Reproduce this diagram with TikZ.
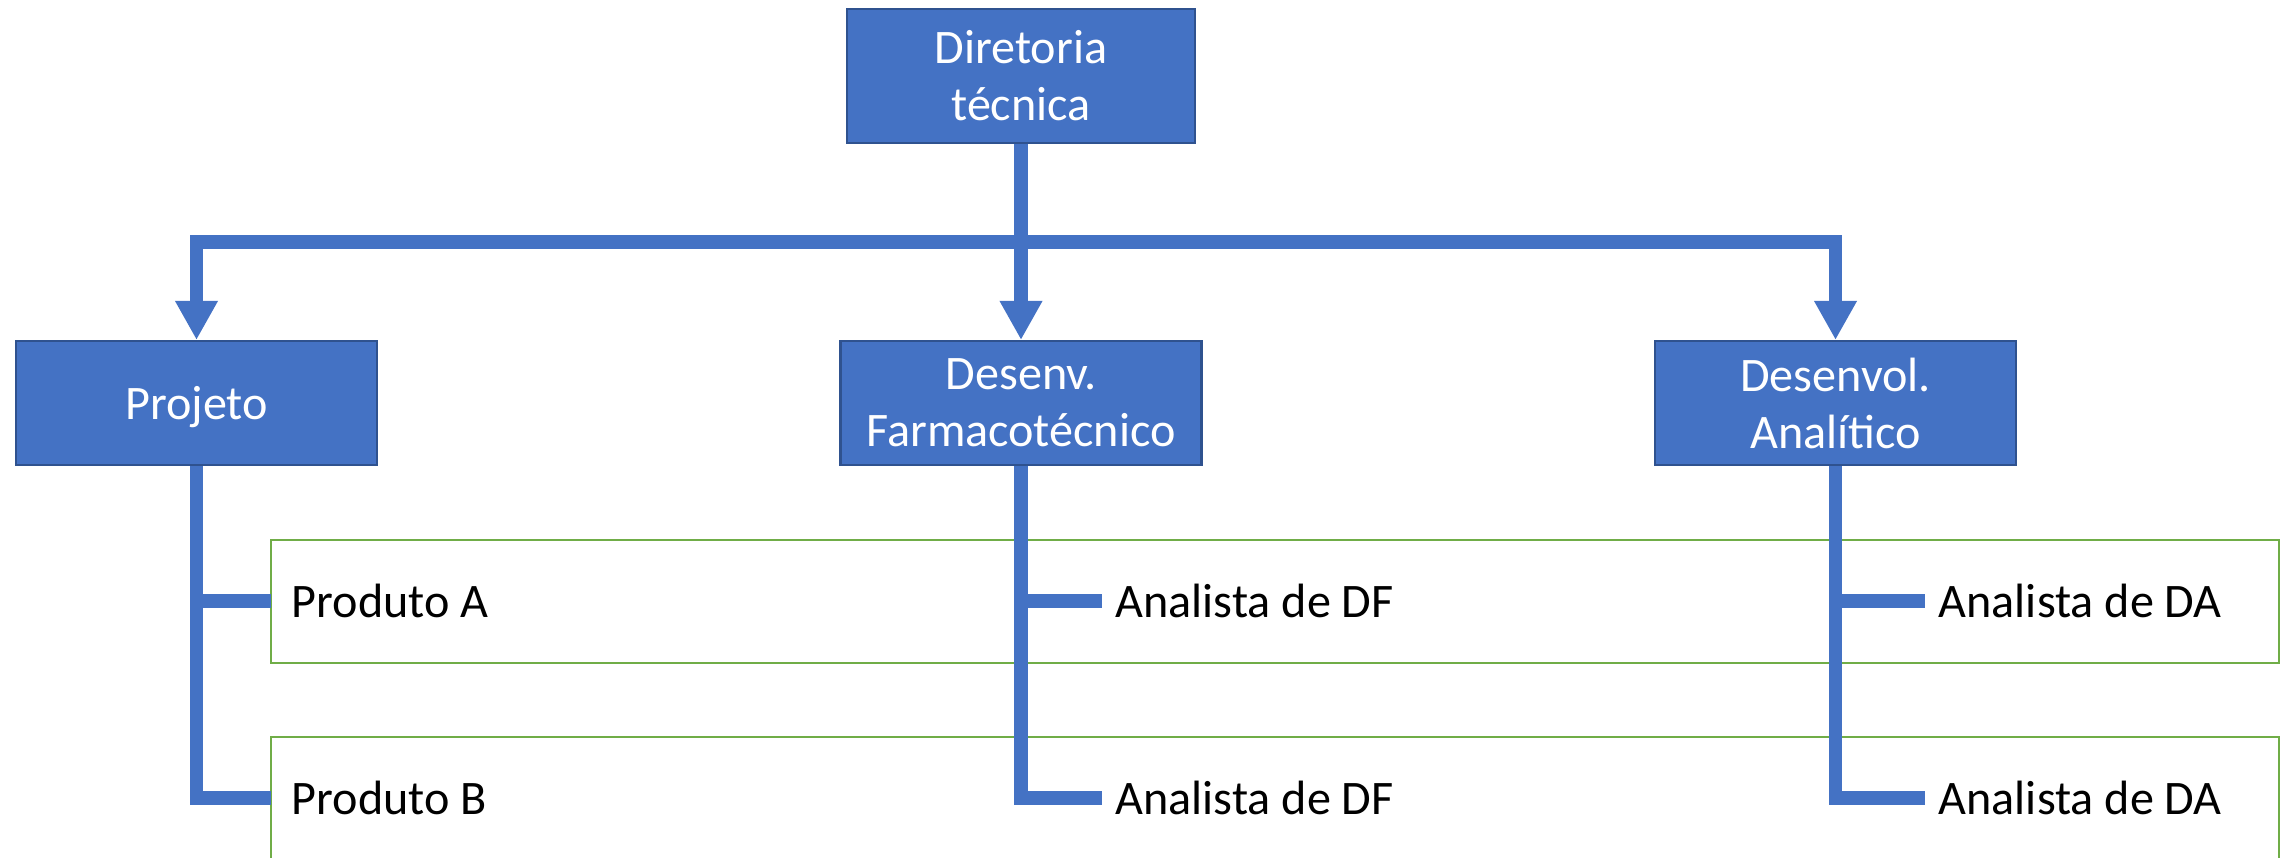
\documentclass[tikz,border=0pt]{standalone}
\usepackage{fontspec}
\setmainfont{Carlito}
\usetikzlibrary{arrows.meta}
\definecolor{boxblue}{HTML}{4472C4}
\definecolor{boxedge}{HTML}{2F528F}
\definecolor{bandgreen}{HTML}{70AD47}

\begin{document}
\begin{tikzpicture}[unit/.style = {draw=boxedge, line width=0.6pt, fill=boxblue, text=white, align=center, minimum width=3.61cm, minimum height=1.24cm, inner sep=0pt, font=\fontsize{13.7}{16.2}\selectfont},
        staff/.style = {anchor=west, inner xsep=0.13cm, inner ysep=0pt, font=\fontsize{13.7}{16.2}\selectfont},
        conn/.style = {draw=boxblue, line width=0.135cm},
        arr/.style = {conn, -{Triangle[width=0.40cm,length=0.39cm]}},
        band/.style = {draw=bandgreen, line width=0.6pt}]
        \useasboundingbox (0,0) rectangle (22.90,-8.57);
        % green bands behind the rows
        \draw[band] (2.71,-5.40) rectangle (22.79,-6.63);
        \draw[band] (2.71,-8.65) |- (22.79,-7.37) -- (22.79,-8.65);
        \node[unit, minimum width=3.48cm, minimum height=1.34cm] (dir) at (10.21,-0.76) {Diretoria\\técnica};
        \node[unit, text depth=0pt] (proj) at (1.965,-4.03) {Projeto};
        \node[unit] (desf) at (10.21,-4.03) {Desenv.\\Farmacotécnico};
        \node[unit] (desa) at (18.355,-4.03) {Desenvol.\\Analítico};
        \coordinate (bus) at (10.21,-2.42);
        \node[staff, inner xsep=0.20cm] (pa) at (2.71,-6.01) {Produto A};
        \node[staff, inner xsep=0.20cm] (pb) at (2.71,-7.98) {Produto B};
        \node[staff] (df1) at (11.02,-6.01) {Analista de DF};
        \node[staff] (df2) at (11.02,-7.98) {Analista de DF};
        \node[staff] (da1) at (19.25,-6.01) {Analista de DA};
        \node[staff] (da2) at (19.25,-7.98) {Analista de DA};
        \draw[arr] (dir.south) -- (desf.north);
        \draw[arr] (bus) -| (proj.north);
        \draw[arr] (bus) -| (desa.north);
        \draw[conn] (proj.south) |- (pa.west);
        \draw[conn] (proj.south) |- (pb.west);
        \draw[conn] (desf.south) |- (df1.west);
        \draw[conn] (desf.south) |- (df2.west);
        \draw[conn] (desa.south) |- (da1.west);
        \draw[conn] (desa.south) |- (da2.west);
        \end{tikzpicture}
\end{document}
